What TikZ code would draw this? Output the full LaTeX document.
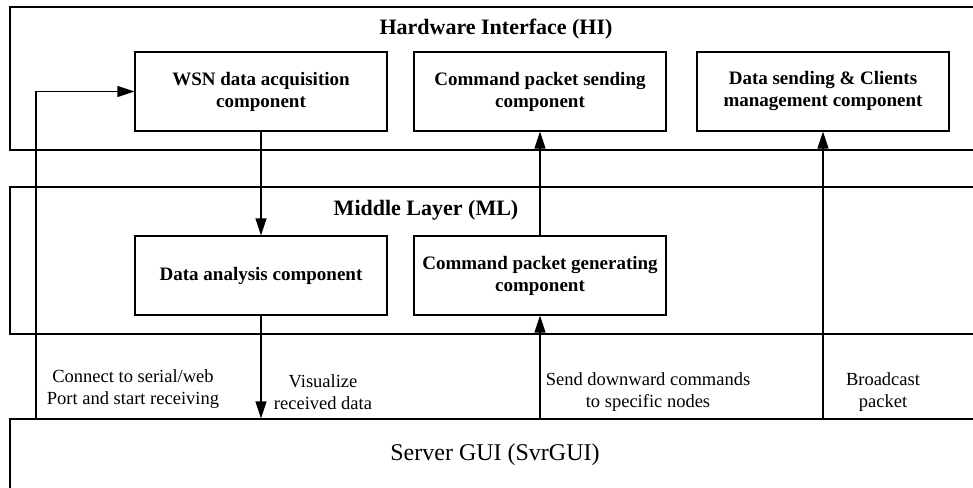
\documentclass[tikz,border=0pt]{standalone}
\usepackage{fontspec}
\setmainfont{Liberation Serif}
\usetikzlibrary{arrows.meta}

\begin{document}
\begin{tikzpicture}[x=1pt, y=-1pt, line width=1.3pt,
	layer/.style={draw, minimum width=980pt},
	comp/.style={draw, minimum width=252pt, minimum height=79pt, align=center, font=\fontsize{19}{22}\selectfont\bfseries},
	title/.style={font=\fontsize{22}{26}\selectfont\bfseries},
	lbl/.style={align=center, font=\fontsize{18.5}{22}\selectfont},
	arr/.style={-{Triangle[length=17pt, width=11pt]}}]
	\useasboundingbox (0,0) rectangle (973,487);
	\clip (0,0) rectangle (973,487);

	% three layers
	\node[layer, minimum height=143pt] (hi) at (500,78.5) {};
	\node[layer, minimum height=147pt] (ml) at (500,260.5) {};
	\node[layer, minimum height=81pt] (gui) at (500,459.5) {};

	\node[title] (hititle) at (496,29) {Hardware Interface (HI)};
	\node[title] (mltitle) at (426,210) {Middle Layer (ML)};
	\node[font=\fontsize{24}{28}\selectfont] (guititle) at (495,455) {Server GUI (SvrGUI)};

	% components
	\node[comp] (wsn) at (261,91.5) {WSN data acquisition\\component};
	\node[comp] (cps) at (540,91.5) {Command packet sending\\component};
	\node[comp] (dsc) at (823,91.5) {Data sending \& Clients\\management component};
	\node[comp] (dac) at (261,275.5) {Data analysis component};
	\node[comp] (cpg) at (540,275.5) {Command packet generating\\component};

	% connectors
	\coordinate (lft) at (36,0);
	\draw[arr] (lft |- gui.north) |- (wsn.west);
	\draw[arr] (wsn) -- (dac);
	\draw[arr] (dac) -- (dac |- gui.north);
	\draw[arr] (cpg |- gui.north) -- (cpg);
	\draw[arr] (cpg) -- (cps);
	\draw[arr] (dsc |- gui.north) -- (dsc);

	\node[lbl] (conn) at (133,389) {Connect to serial/web\\Port and start receiving};
	\node[lbl] (vis) at (323,392) {Visualize\\received data};
	\node[lbl] (send) at (648,392) {Send downward commands\\to specific nodes};
	\node[lbl] (bcast) at (883,392) {Broadcast\\packet};
\end{tikzpicture}
\end{document}
